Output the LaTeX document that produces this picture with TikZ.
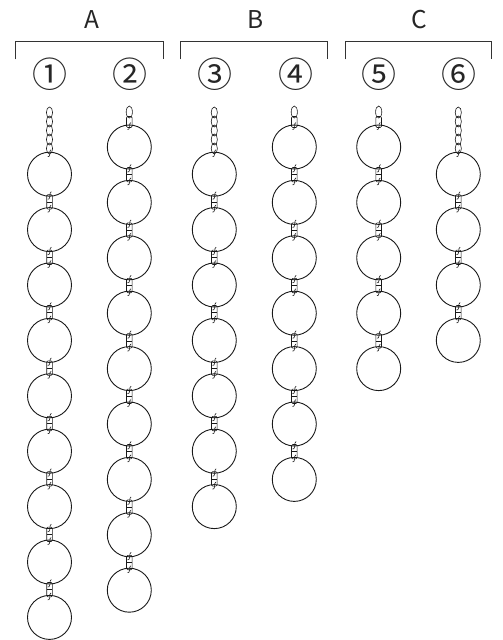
\documentclass[tikz,border=0pt]{standalone}
\usepackage{fontspec}
\usetikzlibrary{calc}
\newfontfamily\jpfont{Noto Sans CJK JP}
\tikzset{
  ring/.style={draw=black!90, circle, minimum size=44pt, inner sep=0pt, outer sep=0pt, line width=0.9pt},
  chain/.style={draw=black!90, line width=0.6pt},
  bracketline/.style={draw=black!80, line width=0.9pt},
  grouplabel/.style={font=\jpfont\fontsize{24.5}{28}\selectfont, text=black!85, inner sep=0pt},
  numlabel/.style={font=\jpfont\fontsize{35}{38}\selectfont, text=black!85, inner sep=0pt}
}
\newcommand\upperhook[1]{%
  \draw[chain, shift={(#1)}] (1.8,-4.5) .. controls (0.3,-4.8) and (0.6,-1.5) .. (0.4,0.5) .. controls (0.2,2.5) and (-0.8,3.5) .. (-1.8,3);}
\newcommand\lowerhook[1]{%
  \draw[chain, shift={(#1)}] (1.6,-2.5) .. controls (0.2,-2.8) and (0.5,0) .. (0.3,2) .. controls (0.1,4) and (-0.7,4.8) .. (-1.8,4.5);}
\newcommand\ringlink[2]{%
  \coordinate (la) at (#1.south);
  \coordinate (lb) at (#2.north);
  \draw[chain, rounded corners=1.2pt] ($(la)+(-2.8,-1.5)$) rectangle ($(lb)+(2.8,1.5)$);
  \draw[chain] ($(la)!0.5!(lb)+(-2.8,0)$) -- ($(la)!0.5!(lb)+(2.8,0)$);
  \upperhook{la}
  \lowerhook{lb}}
\begin{document}
\begin{tikzpicture}[x=1pt,y=-1pt]
\useasboundingbox (0,0) rectangle (503,640);
% group brackets
\draw[bracketline] (15.7,59.3) -- (15.7,41.7) -- (163.3,41.7) -- (163.3,59.3);
\draw[bracketline] (180.3,59.3) -- (180.3,41.7) -- (327.7,41.7) -- (327.7,59.3);
\draw[bracketline] (345,59.3) -- (345,41.7) -- (491.7,41.7) -- (491.7,59.3);
\node[grouplabel] (lA) at (91.5,19.2) {A};
\node[grouplabel] (lB) at (256,19.2) {B};
\node[grouplabel] (lC) at (419,19.2) {C};
% numbers
\node[numlabel] (n1) at (50,74) {①};
\node[numlabel] (n2) at (130,74) {②};
\node[numlabel] (n3) at (215,74) {③};
\node[numlabel] (n4) at (296,74) {④};
\node[numlabel] (n5) at (379,74) {⑤};
\node[numlabel] (n6) at (459,74) {⑥};
% chains
\foreach \col/\x/\y/\n/\t in {1/49.5/174.2/9/1, 2/129.3/147/9/0, 3/214.3/174.2/7/1, 4/294.3/147/7/0, 5/378.7/147/5/0, 6/458.3/174.2/4/1} {
  \foreach \k in {1,...,\n} {
    \node[ring] (c\col-\k) at (\x,{\y+(\k-1)*55.4}) {};
  }
  \foreach \k in {2,...,\n} {
    \pgfmathtruncatemacro\prev{\k-1}
    \ringlink{c\col-\prev}{c\col-\k}
  }
  \ifnum\t=1
    \foreach \j in {0,...,4} {
      \draw[chain] (\x,{112.5+\j*9}) ellipse[x radius=3.1, y radius=5.5];
    }
  \else
    \draw[chain] (\x,112) ellipse[x radius=3.1, y radius=6];
    \draw[chain, rounded corners=1.2pt] (\x-2.8,116.5) rectangle (\x+2.8,127.5);
  \fi
  \lowerhook{c\col-1.north}
}
\end{tikzpicture}
\end{document}
